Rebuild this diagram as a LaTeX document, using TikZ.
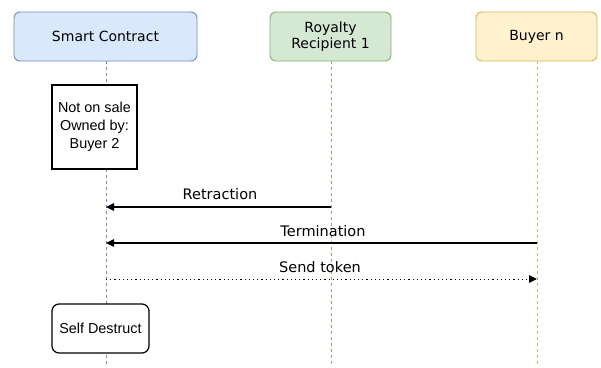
\documentclass[tikz,border=0pt]{standalone}
\usepackage{fontspec}
\setmainfont{DejaVu Sans}
\newfontfamily\boxfont{Liberation Sans}
\usetikzlibrary{arrows.meta}
\definecolor{scFill}{HTML}{DAE8FC}
\definecolor{scLine}{HTML}{6C8EBF}
\definecolor{rrFill}{HTML}{D5E8D4}
\definecolor{rrLine}{HTML}{82B366}
\definecolor{bnFill}{HTML}{FFF2CC}
\definecolor{bnLine}{HTML}{D6B656}
\tikzset{
  actor/.style={draw=#1Line, fill=#1Fill, rounded corners=6pt, line width=0.9pt,
    minimum height=49pt, align=center, font=\fontsize{14}{16}\selectfont},
  lifeline/.style={draw=#1Line, dashed, dash pattern=on 3pt off 3pt, line width=0.8pt},
  note/.style={draw=black, fill=white, line width=1.2pt, align=center,
    font=\boxfont\fontsize{14.4}{18}\selectfont, inner sep=0pt},
  msg/.style={line width=1.2pt, -{Triangle[length=8pt,width=7.5pt]}},
  msglabel/.style={font=\fontsize{14.5}{16}\selectfont, inner sep=1pt},
}
\begin{document}
\begin{tikzpicture}[x=1pt,y=-1pt]
\useasboundingbox (0,0) rectangle (601,367);
% participants
\node[actor=sc, minimum width=183pt] (sc) at (105.5,36.5) {Smart Contract};
\node[actor=rr, minimum width=121pt] (rr) at (330.5,36.5) {Royalty\\Recipient 1};
\node[actor=bn, minimum width=121pt] (bn) at (536.5,36.5) {Buyer n};
% lifeline ends
\coordinate (scEnd) at (106,367);
\coordinate (rrEnd) at (331,367);
\coordinate (bnEnd) at (537,367);
\draw[lifeline=sc] (sc.south -| scEnd) -- (scEnd);
\draw[lifeline=rr] (rr.south -| rrEnd) -- (rrEnd);
\draw[lifeline=bn] (bn.south -| bnEnd) -- (bnEnd);
% state notes on the contract lifeline
\node[note, minimum width=85pt, minimum height=84pt] (own) at (94.5,127) {Not on sale\\Owned by:\\Buyer 2};
\node[note, rounded corners=7pt, minimum width=97pt, minimum height=49pt] (sd) at (100.5,328.5) {Self Destruct};
% messages
\coordinate (rA) at (331,207);
\coordinate (sA) at (106,207);
\coordinate (bB) at (537,243);
\coordinate (sB) at (106,243);
\coordinate (sC) at (106,279);
\coordinate (bC) at (537,279);
\draw[msg] (rA) -- (sA);
\node[msglabel] (l1) at (220,194) {Retraction};
\draw[msg] (bB) -- (sB);
\node[msglabel] (l2) at (323,231) {Termination};
\draw[msg, line width=1pt, dash pattern=on 1.2pt off 3pt] (sC) -- (bC);
\node[msglabel] (l3) at (320,267) {Send token};
\end{tikzpicture}
\end{document}
